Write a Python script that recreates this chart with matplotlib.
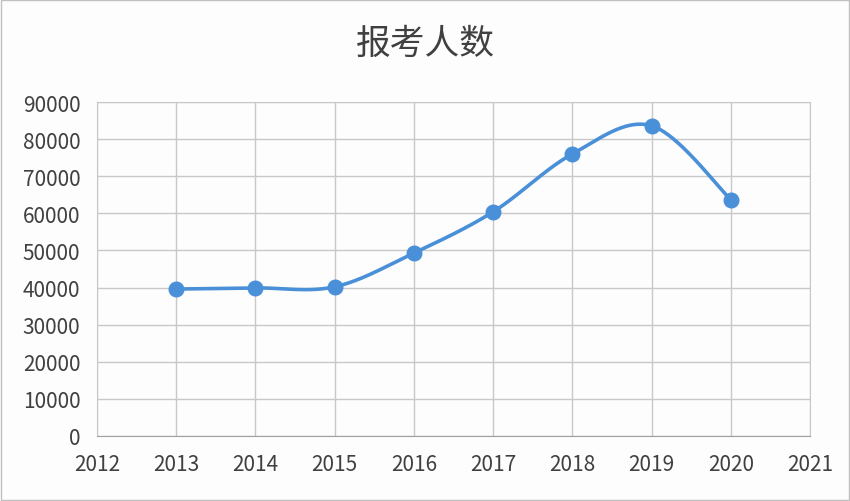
import numpy as np
import matplotlib
matplotlib.use("Agg")
import matplotlib.pyplot as plt
from matplotlib.patches import Rectangle

plt.rcParams['font.family'] = ['Noto Sans CJK SC', 'DejaVu Sans']

title = "报考人数"
years = [2013, 2014, 2015, 2016, 2017, 2018, 2019, 2020]
values = [39600, 39900, 40200, 49300, 60400, 76000, 83600, 63700]
x_ticks = list(range(2012, 2022))
y_ticks = list(range(0, 90001, 10000))

def catmull_rom(xs, ys, n=40):
    xs = np.asarray(xs, float); ys = np.asarray(ys, float)
    px = np.concatenate([[xs[0]], xs, [xs[-1]]])
    py = np.concatenate([[ys[0]], ys, [ys[-1]]])
    outx, outy = [], []
    for i in range(1, len(px) - 2):
        p0, p1, p2, p3 = (np.array([px[j], py[j]]) for j in (i - 1, i, i + 1, i + 2))
        c1 = p1 + (p2 - p0) / 6
        c2 = p2 - (p3 - p1) / 6
        t = np.linspace(0, 1, n)[:, None]
        pts = (1 - t) ** 3 * p1 + 3 * (1 - t) ** 2 * t * c1 + 3 * (1 - t) * t ** 2 * c2 + t ** 3 * p2
        outx.extend(pts[:, 0]); outy.extend(pts[:, 1])
    return np.array(outx), np.array(outy)

fig = plt.figure(figsize=(8.5, 5.02), dpi=100, facecolor='#fdfdfd')
ax = fig.add_axes([97/850, 1 - 437/502, (810-97)/850, (437-103)/502])
ax.set_facecolor('#fdfdfd')

sx, sy = catmull_rom(years, values)
color = '#4a90d9'
ax.plot(sx, sy, color=color, lw=2.6, solid_capstyle='round', zorder=3)
ax.plot(years, values, 'o', color=color, ms=10.5, zorder=4)

ax.set_xlim(2012, 2021)
ax.set_ylim(0, 90000)
ax.set_xticks(x_ticks)
ax.set_yticks(y_ticks)
ax.set_xticklabels([str(v) for v in x_ticks])
ax.set_yticklabels([str(v) for v in y_ticks])
ax.grid(True, color='#c8c8c8', lw=1)
ax.set_axisbelow(True)
for s in ['top', 'right', 'left']:
    ax.spines[s].set_color('#c8c8c8')
ax.spines['bottom'].set_color('#a0a0a0')
ax.tick_params(length=0, labelsize=15, colors='#404040', pad=12)
ax.tick_params(axis='x', pad=12)

fig.text(0.5, 1 - 44/502, title, ha='center', va='center', fontsize=25, color='#404040',
         fontweight='light')
fig.patches.append(Rectangle((0.001, 0.001), 0.998, 0.997, transform=fig.transFigure,
                             fill=False, edgecolor='#c0c0c0', lw=1))

fig.savefig('out.png', dpi=100, facecolor=fig.get_facecolor())
